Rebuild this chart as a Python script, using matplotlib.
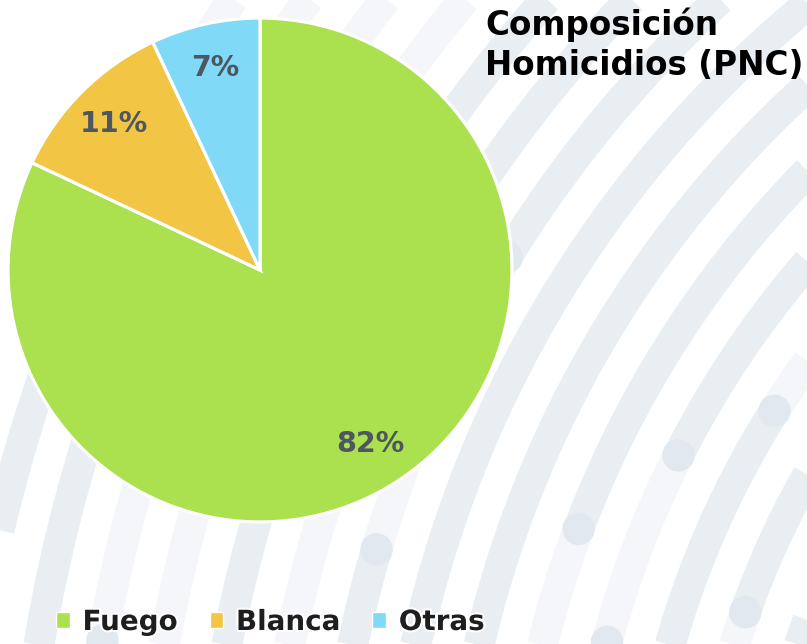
import numpy as np
import matplotlib
matplotlib.use("Agg")
import matplotlib.pyplot as plt
from matplotlib.patches import Patch, Circle
import matplotlib.patheffects as pe

# ---- data ----
categories = ["Fuego", "Blanca", "Otras"]
values = [82, 11, 7]
colors = ["#abe04e", "#f2c544", "#80d9f6"]
title = "Composición\nHomicidios (PNC)"

W, H = 807, 644
fig = plt.figure(figsize=(W / 100, H / 100), dpi=100)

# ---- decorative background (concentric arcs) ----
bg = fig.add_axes([0, 0, 1, 1])
bg.set_xlim(0, W)
bg.set_ylim(H, 0)
bg.axis("off")
D, F = "#e9eef3", "#f4f6fa"
cx, cy, R0, dR = 1537, 891, 839.4, 61.7
rings = {
    -1: [(80, 185, D)],
    0: [(80, 160.6, D), (160.6, 185, F)],
    1: [(80, 147.8, F), (147.8, 185, D)],
    2: [(80, 153.1, D), (153.1, 165, F), (165, 185, D)],
    3: [(80, 159.3, D), (159.3, 185, F)],
    4: [(80, 185, D)],
    5: [(80, 185, D)],
    6: [(80, 148.4, D), (148.4, 163.6, F), (163.6, 185, D)],
    7: [(80, 150, D), (150, 185, F)],
    8: [(80, 185, D)],
    9: [(80, 185, F)],
    10: [(80, 170.1, F), (170.1, 185, D)],
    11: [(80, 158, F), (158, 185, D)],
    12: [(80, 158, F), (158, 185, D)],
}
lw = 31 * 72 / 100
for k, segs in rings.items():
    r = R0 + k * dR
    for t0, t1, c in segs:
        t = np.radians(np.linspace(t0, t1, 200))
        bg.plot(cx + r * np.cos(t), cy - r * np.sin(t), color=c, lw=lw,
                solid_capstyle="butt")
dots = [(1, 147.8), (2, 153.1), (3, 159.3), (6, 163.6), (0, 160.6),
        (2, 165), (10, 170.1), (6, 148.4)]
for k, a in dots:
    r = R0 + k * dR
    t = np.radians(a)
    bg.add_patch(Circle((cx + r * np.cos(t), cy - r * np.sin(t)), 15.5,
                        color="#e1e8f0", zorder=3))

# ---- pie ----
pcx, pcy, pr = 260, 270, 257
ax = fig.add_axes([(pcx - pr) / W, (H - pcy - pr) / H, 2 * pr / W, 2 * pr / H])
ax.set_facecolor("none")
wedges, texts, autotexts = ax.pie(
    values, colors=colors, startangle=90, counterclock=False,
    autopct=lambda p: f"{p:.0f}%", pctdistance=0.82, radius=1,
    wedgeprops=dict(edgecolor="white", linewidth=2.3),
    textprops=dict(fontsize=20.5, fontweight="bold", color="#4d5661",
                   family="DejaVu Sans"))
ax.set_xlim(-1.02, 1.02)
ax.set_ylim(-1.02, 1.02)
ax.set_aspect("equal")

# ---- title ----
fig.text(485 / W, 1 - 7 / H, title, ha="left", va="top", fontsize=23.5,
         fontweight="bold", color="black", linespacing=1.3,
         family="DejaVu Sans")

# ---- legend ----
handles = [Patch(facecolor=c, edgecolor="white", linewidth=1) for c in colors]
leg = fig.legend(handles, categories, loc="center left",
                 bbox_to_anchor=(45 / W, 1 - 622 / H), ncol=3, frameon=False,
                 handlelength=0.5, handleheight=0.5, handletextpad=0.45,
                 columnspacing=1.15, borderaxespad=0,
                 prop=dict(size=20, weight="bold", family="DejaVu Sans"))
for t in leg.get_texts():
    t.set_color("#1e1e1e")
    t.set_path_effects([pe.withStroke(linewidth=3, foreground="white")])

fig.savefig("out.png", dpi=100)
